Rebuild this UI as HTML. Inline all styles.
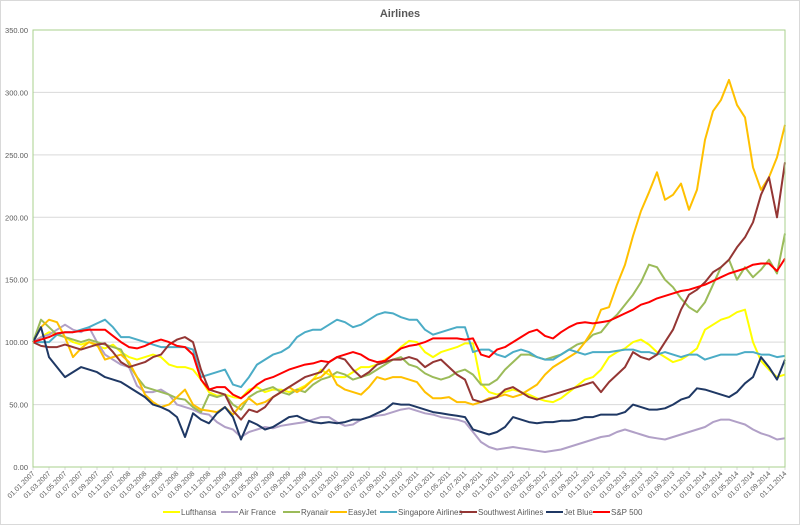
<!DOCTYPE html>
<html><head><meta charset="utf-8"><style>
body{margin:0;background:#fff;}
svg{display:block;font-family:"Liberation Sans",sans-serif;}
</style></head><body>
<svg id="chart" width="800" height="525" viewBox="0 0 800 525">
<rect x="0.5" y="0.5" width="799" height="524" fill="#fff" stroke="#d9d9d9"/>
<text x="400" y="17" text-anchor="middle" font-size="11" font-weight="bold" fill="#595959">Airlines</text>
<g id="grid"></g>
<g id="yaxis"></g>
<g id="xaxis"></g>
<g id="series"></g>
<rect x="33" y="30" width="752" height="437" fill="none" stroke="#a9d18e" stroke-width="1"/>
<g id="legend"></g>
</svg>
<script>
const yTicks=[0,50,100,150,200,250,300,350];
const seriesNames=["Lufthansa","Air France","Ryanair","EasyJet","Singapore Airlines","Southwest Airlines","Jet Blue","S&P 500"];
const seriesColors=["#ffff00","#b1a0c7","#9bbb59","#ffc000","#4bacc6","#943634","#1f3864","#ff0000"];
const lufthansa=[100,104,108,106,104,100,98,100,97,95,98,92,88,86,88,90,88,82,80,80,78,70,60,57,58,56,55,62,64,60,62,62,60,62,65,70,78,74,72,72,76,80,80,82,86,90,96,101,100,92,88,92,94,96,99,99,67,60,58,60,62,60,58,55,53,52,55,60,65,70,72,78,88,92,95,100,102,98,92,88,84,86,90,95,110,114,118,120,124,126,100,85,78,72,74];
const airFrance=[100,104,106,110,114,110,108,112,100,90,86,82,80,65,60,60,62,58,50,48,46,43,42,36,32,30,24,28,30,32,31,33,34,35,36,38,40,40,36,33,34,38,40,41,42,44,46,47,45,43,42,40,39,38,36,28,20,16,14,15,16,15,14,13,12,13,14,16,18,20,22,24,25,28,30,28,26,24,23,22,24,26,28,30,32,36,38,38,36,34,30,27,25,22,23];
const ryanair=[100,118,112,106,104,102,100,102,100,98,96,94,82,72,64,62,60,58,55,54,48,44,58,56,58,50,46,56,60,62,64,60,58,62,60,66,70,72,76,74,70,72,74,78,82,86,88,82,80,75,72,70,72,76,78,74,66,66,70,78,84,90,90,88,86,88,90,94,98,100,106,108,116,122,130,138,148,162,160,150,144,135,128,124,132,146,160,166,150,160,152,158,166,155,187];
const easyJet=[100,112,118,116,104,88,95,100,98,86,88,90,84,72,58,52,48,50,56,62,50,46,45,44,48,42,50,55,50,52,56,60,64,60,64,70,72,78,66,62,60,58,64,72,70,72,72,70,68,60,55,55,56,52,52,50,52,55,56,58,56,58,62,66,74,80,84,88,92,100,110,126,128,146,162,185,205,220,236,214,218,227,206,222,262,285,294,310,290,280,240,222,232,248,274];
const singapore=[100,100,100,106,108,108,110,112,115,118,112,104,104,102,100,98,96,96,96,96,94,72,74,76,78,66,64,72,82,86,90,92,96,104,108,110,110,114,118,116,112,114,118,122,124,123,120,118,118,110,106,108,110,112,112,92,94,94,90,88,92,94,92,88,86,86,90,94,92,90,92,92,92,93,94,94,92,92,90,92,90,88,90,90,86,88,90,90,90,92,92,90,90,88,89];
const southwest=[100,97,96,96,98,96,94,96,98,99,92,84,80,82,84,88,90,98,102,104,100,78,62,60,58,45,38,46,44,48,56,60,64,68,72,74,76,84,88,86,78,72,76,82,84,86,86,88,86,80,84,86,80,74,70,54,52,54,56,62,64,60,56,54,56,58,60,62,64,66,68,60,68,74,80,92,88,86,90,100,110,126,138,142,148,156,160,166,176,184,196,218,232,200,244];
const jetBlue=[100,112,88,80,72,76,80,78,76,72,70,68,64,60,56,50,48,45,40,24,43,38,35,43,48,40,22,37,34,30,32,36,40,41,38,36,35,36,35,36,38,38,40,43,46,51,50,50,48,46,44,43,42,41,40,30,28,26,28,32,40,38,36,35,36,36,37,37,38,40,40,42,42,42,44,50,48,46,46,47,50,54,56,63,62,60,58,56,60,67,72,88,80,70,86];
const sp500=[100,102,104,107,108,108,109,110,110,110,105,100,96,95,97,100,102,100,97,96,90,70,62,64,64,58,55,60,66,70,72,75,78,80,82,83,85,84,88,90,92,90,86,84,85,90,95,97,98,100,103,103,103,103,102,103,90,88,94,96,100,104,108,110,105,103,108,112,115,116,115,116,117,120,123,126,130,132,135,137,139,141,142,144,146,149,152,155,157,159,162,163,163,157,167];
const allSeries=[lufthansa,airFrance,ryanair,easyJet,singapore,southwest,jetBlue,sp500];
const startYear=2007;

const NS="http://www.w3.org/2000/svg";
const X0=33,X1=785,Y0=467,Y1=30,VMAX=350,NMONTHS=94;
function xScale(m){return X0+(X1-X0)*m/NMONTHS;}
function yScale(v){return Y0-(Y0-Y1)*v/VMAX;}
function mk(tag,attrs,parent){const e=document.createElementNS(NS,tag);for(const k in attrs)e.setAttribute(k,attrs[k]);parent.appendChild(e);return e;}
const grid=document.getElementById('grid'),yaxis=document.getElementById('yaxis'),xaxis=document.getElementById('xaxis'),sg=document.getElementById('series'),lg=document.getElementById('legend');
yTicks.forEach(t=>{
  if(t>0&&t<VMAX){const l=mk('line',{x1:X0,x2:X1,y1:yScale(t),y2:yScale(t),stroke:'#d9d9d9','stroke-width':1},grid);
  
  }
  const tx=mk('text',{x:28,y:yScale(t)+3,'text-anchor':'end','font-size':'7.5',fill:'#595959'},yaxis);
  tx.textContent=t.toFixed(2);
  
  
});
for(let m=0;m<=NMONTHS;m+=2){
  const mo=(m%12)+1,yr=startYear+Math.floor(m/12);
  const lab='01.'+(mo<10?'0':'')+mo+'.'+yr;
  const x=xScale(m);
  mk('line',{x1:x,x2:x,y1:Y0,y2:Y0+3,stroke:'#d9d9d9'},xaxis);
  const tx=mk('text',{x:x+2,y:Y0+7,'text-anchor':'end','font-size':'7',fill:'#595959',transform:'rotate(-45 '+(x+2)+' '+(Y0+7)+')'},xaxis);
  tx.textContent=lab;
  
  
}
allSeries.forEach((arr,i)=>{
  const d=arr.map((v,m)=>(m?'L':'M')+xScale(m).toFixed(1)+' '+yScale(v).toFixed(1)).join(' ');
  const p=mk('path',{d:d,fill:'none',stroke:seriesColors[i],'stroke-width':2,'stroke-linejoin':'round'},sg);
  
  
});
const legX=[163,221,283,330,380,460,546,593];
seriesNames.forEach((n,i)=>{
  const g=mk('g',{},lg);
  
  
  mk('line',{x1:legX[i],x2:legX[i]+17,y1:512,y2:512,stroke:seriesColors[i],'stroke-width':2},g);
  const t=mk('text',{x:legX[i]+18,y:515,'font-size':'8',fill:'#595959'},g);
  t.textContent=n;
});
</script>
</body></html>
